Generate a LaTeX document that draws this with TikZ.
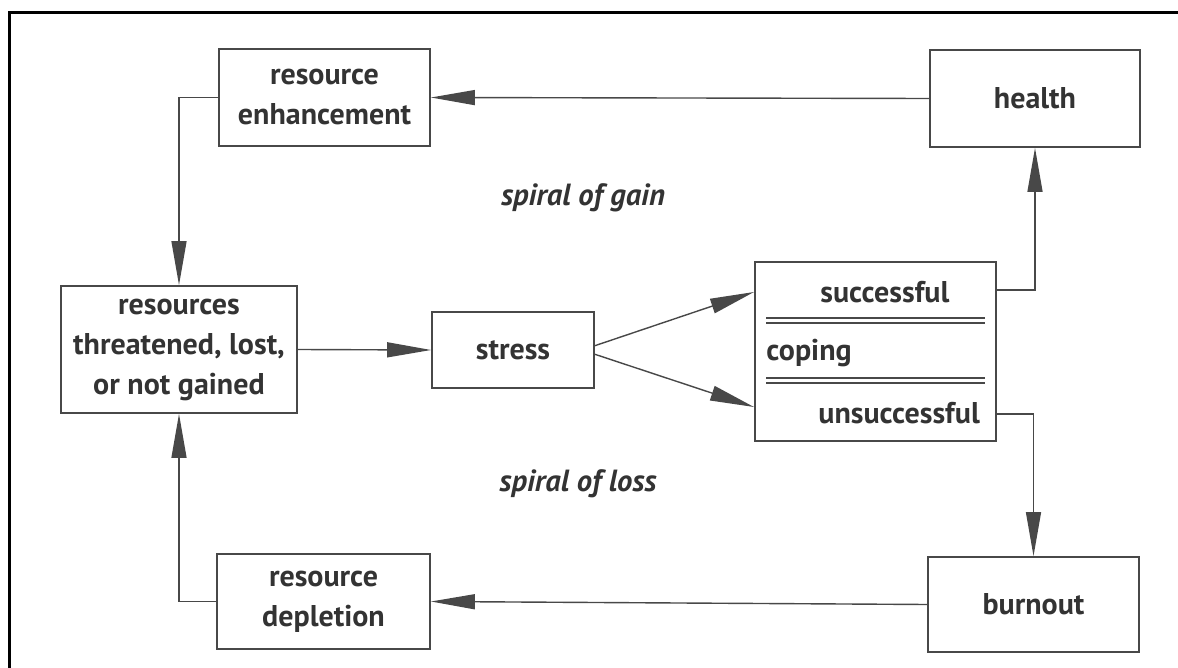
\documentclass[tikz,border=0pt]{standalone}
\usepackage{fontspec}
\setmainfont{PT Sans}
\usetikzlibrary{arrows.meta,positioning}
\definecolor{ink}{HTML}{333333}
\definecolor{wire}{HTML}{484848}
\begin{document}
\begin{tikzpicture}[x=0.5pt, y=-0.5pt]
        \tikzstyle{box}=[draw=wire, line width=0.9pt, text=ink, align=center, inner sep=0pt, font=\bfseries\fontsize{15}{20}\selectfont]
        \tikzstyle{flow}=[draw=wire, line width=0.7pt, -{Triangle[length=22pt, width=7.5pt]}]
        \tikzstyle{spiral}=[text=ink, font=\bfseries\itshape\fontsize{15.3}{20}\selectfont]
        \tikzstyle{word}=[text=ink, inner sep=0pt, anchor=base west, font=\bfseries\fontsize{15}{20}\selectfont]
        \useasboundingbox (0,0) rectangle (1178,668);
        % Frame
        \draw[line width=1.5pt] (9,668) -- (9,13) -- (1178,13);
        % Upper row
        \node[box, minimum width=105.5pt, minimum height=48.5pt] (enh) at (324.5,97.5) {resource\\enhancement};
        \node[box, minimum width=105pt, minimum height=48.5pt] (health) at (1035,98.5) {health};
        % Middle row
        \node[box, minimum width=118pt, minimum height=63.5pt] (res) at (179,349.5) {resources\\threatened, lost,\\or not gained};
        \node[box, minimum width=81pt, minimum height=38pt] (stress) at (513,350) {stress};
        \node[box, minimum width=120.5pt, minimum height=89.5pt] (coping) at (875.5,351.5) {};
        \node[word] (succ) at (820,303) {successful};
        \node[word] (cope) at (766,360) {coping};
        \node[word] (unsucc) at (818,423) {unsuccessful};
        \draw[wire, line width=0.7pt] (766,318) -- (985,318) (766,323) -- (985,323);
        \draw[wire, line width=0.7pt] (766,378) -- (985,378) (766,383) -- (985,383);
        % Lower row
        \node[box, minimum width=106.5pt, minimum height=47.5pt] (depl) at (323.5,601.5) {resource\\depletion};
        \node[box, minimum width=105.5pt, minimum height=47.5pt] (burnout) at (1033.5,604.5) {burnout};
        % Labels
        \node[spiral] (gain) at (583,198) {spiral of gain};
        \node[spiral] (loss) at (578,484) {spiral of loss};
        % Connectors
        \coordinate (sout1) at (594,346);
        \coordinate (sout2) at (594,354);
        \coordinate (cin1) at (754,292);
        \coordinate (cin2) at (754,407);
        \coordinate (cout1) at (996,290);
        \coordinate (cout2) at (996,414);
        \draw[flow] (health.west) -- (enh.east);
        \draw[flow] (enh.west) -| (res.north);
        \draw[flow] (res.east) -- (stress.west);
        \draw[flow] (sout1) -- (cin1);
        \draw[flow] (sout2) -- (cin2);
        \draw[flow] (cout1) -| (health.south);
        \draw[flow] (cout2) -| (burnout.north);
        \draw[flow] (burnout.west) -- (depl.east);
        \draw[flow] (depl.west) -| (res.south);
\end{tikzpicture}
\end{document}
